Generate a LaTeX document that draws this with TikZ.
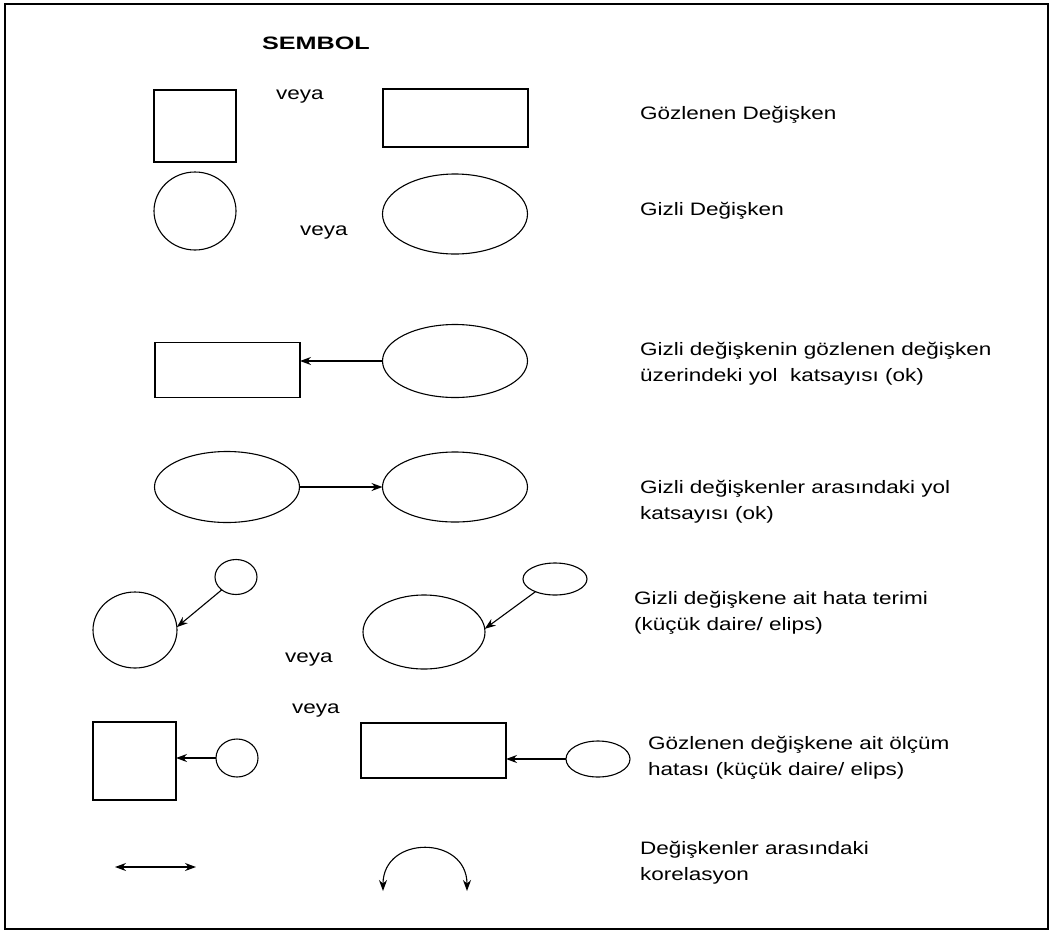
\documentclass[tikz,border=0pt]{standalone}
\usepackage{fontspec}
\setmainfont{Liberation Sans}[FakeStretch=1.25]
\newfontfamily\headfont{Liberation Sans}[FakeStretch=1.4]
\usetikzlibrary{arrows.meta,shapes.geometric,calc}

\begin{document}
\begin{tikzpicture}[x=1pt,y=-1pt,
  line width=1.1pt,
  every node/.style={inner sep=0pt, outer sep=0pt},
  box/.style={draw, rectangle},
  oval/.style={draw, ellipse},
  lbl/.style={anchor=west, align=left, font=\fontsize{18}{26}\selectfont},
  orword/.style={anchor=west, font=\fontsize{18}{22}\selectfont},
  arr/.style={-{Stealth[length=11pt,width=8pt]}},
  darr/.style={{Stealth[length=11pt,width=8pt]}-{Stealth[length=11pt,width=8pt]}}
]
\useasboundingbox (0,0) rectangle (1049,940);

% outer frame
\draw[line width=1.3pt] (5,4) rectangle (1048,929);

% heading
\node[anchor=west, font=\headfont\bfseries\fontsize{18}{20}\selectfont] (title) at (262,43) {SEMBOL};

% observed variable
\node[box, minimum width=82pt, minimum height=72pt] (r1a) at (195,126) {};
\node[orword] (or1) at (276,97) {veya};
\node[box, minimum width=145pt, minimum height=58pt] (r1b) at (455.5,118) {};
\node[lbl] (t1) at (640,115) {Gözlenen Değişken};

% latent variable
\node[oval, minimum width=82pt, minimum height=78pt] (c2a) at (195,211) {};
\node[orword] (or2) at (300,233) {veya};
\node[oval, minimum width=145pt, minimum height=80pt] (e2b) at (455,214) {};
\node[lbl] (t2) at (640,211) {Gizli Değişken};

% path from latent to observed
\node[box, minimum width=145pt, minimum height=55pt] (r3) at (227.5,370) {};
\node[oval, minimum width=145pt, minimum height=73pt] (e3) at (455,361) {};
\draw[arr] (e3.west) -- (e3.west -| r3.east);
\node[lbl] (t3) at (640,364) {Gizli değişkenin gözlenen değişken\\üzerindeki yol\ \ katsayısı (ok)};

% path between latent variables
\node[oval, minimum width=145pt, minimum height=71pt] (e4a) at (227,487) {};
\node[oval, minimum width=145pt, minimum height=70pt] (e4b) at (455,487) {};
\draw[arr] (e4a.east) -- (e4b.west);
\node[lbl] (t4) at (640,502) {Gizli değişkenler arasındaki yol\\katsayısı (ok)};

% error term of a latent variable
\node[oval, minimum width=84pt, minimum height=76pt] (c5a) at (135,630) {};
\node[oval, minimum width=42pt, minimum height=35pt] (s5a) at (236,577) {};
\draw[arr] (s5a.222) -- (c5a.4);
\node[orword] (or5) at (285,660) {veya};
\node[oval, minimum width=122pt, minimum height=74pt] (e5b) at (424,632) {};
\node[oval, minimum width=64pt, minimum height=32pt] (s5b) at (555,579) {};
\draw[arr] (s5b.213) -- (e5b.3);
\node[lbl] (t5) at (634,613) {Gizli değişkene ait hata terimi\\(küçük daire/ elips)};

% measurement error of an observed variable
\node[box, minimum width=83pt, minimum height=78pt] (r6a) at (134.5,761) {};
\node[oval, minimum width=42pt, minimum height=38pt] (s6a) at (237,758) {};
\draw[arr] (s6a.west) -- (s6a.west -| r6a.east);
\node[orword] (or6) at (292,711) {veya};
\node[box, minimum width=145pt, minimum height=55pt] (r6b) at (433.5,750.5) {};
\node[oval, minimum width=64pt, minimum height=36pt] (s6b) at (598,759) {};
\draw[arr] (s6b.west) -- (s6b.west -| r6b.east);
\node[lbl] (t6) at (648,758) {Gözlenen değişkene ait ölçüm\\hatası (küçük daire/ elips)};

% correlation
\coordinate (da) at (115,867);
\coordinate (db) at (196,867);
\draw[darr] (da) -- (db);
\coordinate (ca) at (383,891);
\coordinate (cb) at (467,891);
\draw[darr] (ca) .. controls ($(ca)+(0,-56)$) and ($(cb)+(0,-56)$) .. (cb);
\node[lbl] (t7) at (640,863) {Değişkenler arasındaki\\korelasyon};
\end{tikzpicture}
\end{document}
